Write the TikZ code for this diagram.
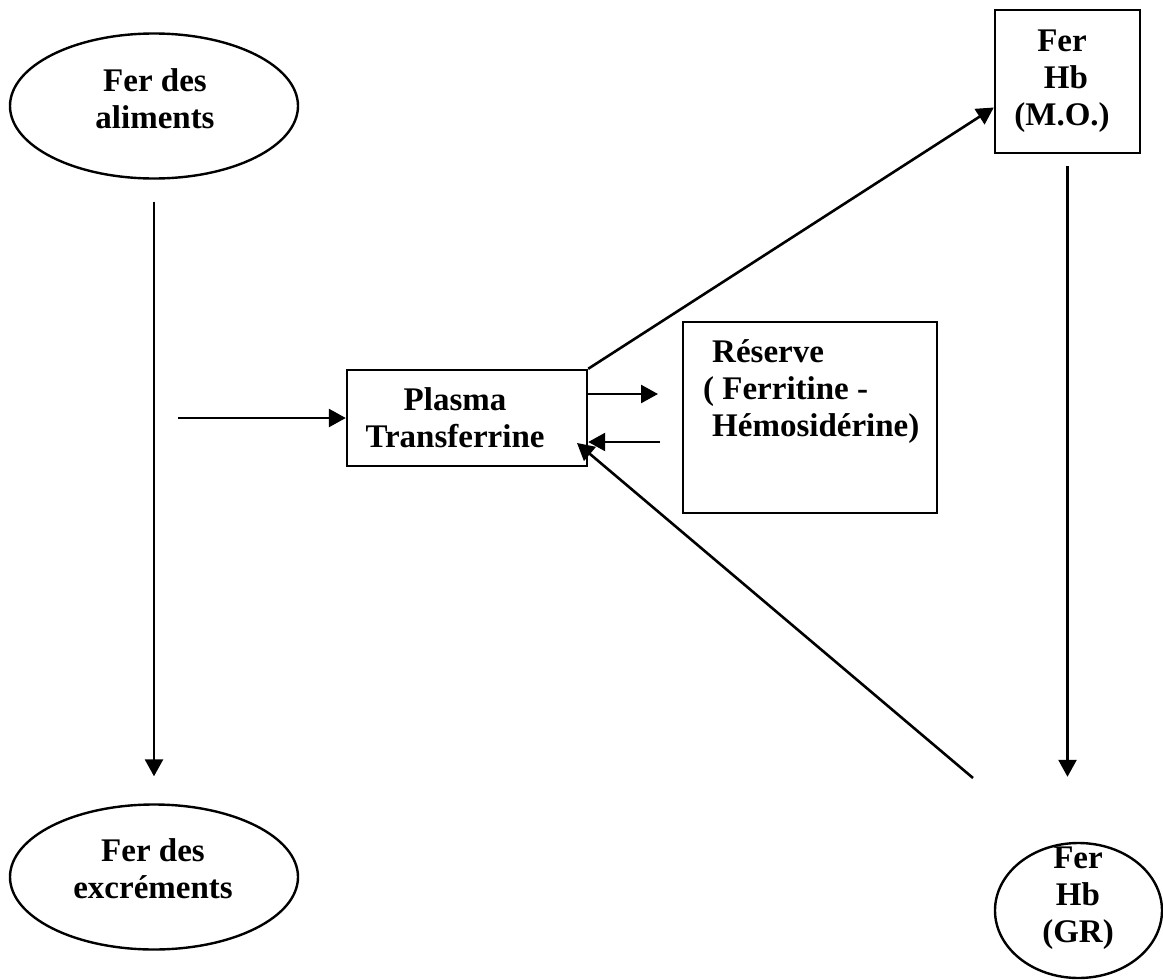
\documentclass[tikz,border=0pt]{standalone}
\usepackage{fontspec}
\setmainfont{Liberation Serif}
\usetikzlibrary{shapes.geometric,arrows.meta}
\tikzset{
  every node/.style = {font=\fontsize{33}{37}\selectfont\bfseries},
  bulle/.style = {draw, ellipse, line width=2.4pt, inner sep=0pt},
  boite/.style = {draw, rectangle, line width=2.4pt, inner sep=0pt},
  texte/.style = {align=center, inner sep=0pt},
  fleche/.style = {line width=2.6pt, -{Triangle[length=17pt,width=18pt]}}
}

\begin{document}
\begin{tikzpicture}[x=1pt, y=-1pt]
	\useasboundingbox (0,0) rectangle (1163,980);
	% formes
	\node[bulle, minimum width=288pt, minimum height=145pt] (alim) at (154,106) {};
	\node[bulle, minimum width=288pt, minimum height=145pt] (excr) at (154,877) {};
	\node[boite, minimum width=240pt, minimum height=96pt] (plasma) at (467,418) {};
	\node[boite, minimum width=254pt, minimum height=191pt] (reserve) at (810,417.5) {};
	\node[boite, minimum width=145pt, minimum height=143pt] (mo) at (1067.5,81.5) {};
	\node[bulle, minimum width=167pt, minimum height=135pt] (gr) at (1078.5,910.5) {};
	% textes
	\node[texte] (alim-t) at (155,99) {Fer des\\aliments};
	\node[texte] (excr-t) at (153,869) {Fer des\\excréments};
	\node[texte] (plasma-t) at (455,418) {Plasma\\Transferrine};
	\node[texte, align=left, anchor=west] (reserve-t) at (703,392)
		{\hspace*{9pt}Réserve\\( Ferritine -\\\hspace*{9pt}Hémosidérine)};
	\node[texte] (mo-t) at (1062,81) {Fer\\\hspace*{8pt}Hb\\(M.O.)};
	\node[texte] (gr-t) at (1078,898) {Fer\\Hb\\(GR)};
	% fleches
	\coordinate (entree) at (178,418);
	\coordinate (vers-r) at (658,394);
	\coordinate (de-r) at (660,442);
	\coordinate (de-gr) at (973,778);
	\coordinate (vers-p) at (577,443);
	\draw[fleche, shorten <=22pt, shorten >=27pt] (alim.south) -- (excr.north);
	\draw[fleche] (entree) -- (plasma.west);
	\draw[fleche] (plasma.north east) -- ([yshift=-26pt]mo.west);
	\draw[fleche] ([yshift=24pt]plasma.east) -- (vers-r);
	\draw[fleche] (de-r) -- ([yshift=-24pt]plasma.east);
	\draw[fleche, shorten <=12pt, shorten >=65pt] (mo.south) -- (mo.south |- gr.north);
	\draw[fleche] (de-gr) -- (vers-p);
\end{tikzpicture}
\end{document}
